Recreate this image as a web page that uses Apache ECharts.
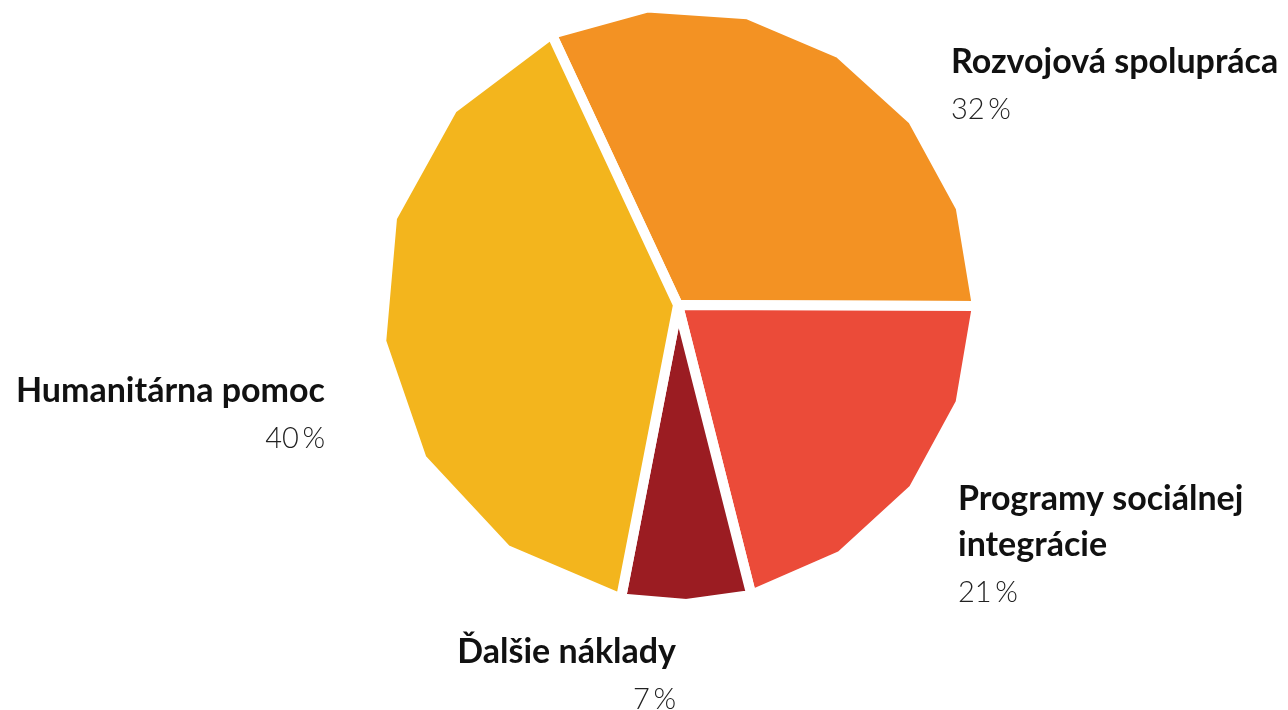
<!DOCTYPE html>
<html><head><meta charset="utf-8">
<script src="https://cdn.jsdelivr.net/npm/echarts@6/dist/echarts.min.js"></script>
<style>html,body{margin:0;padding:0;background:#fff}#c{width:1288px;height:710px}</style>
</head><body><div id="c"></div>
<script>
// ---- data ----
const categories = ['Rozvojová spolupráca', 'Programy sociálnej\nintegrácie', 'Ďalšie náklady', 'Humanitárna pomoc'];
const values = [32, 21, 7, 40];
const colors = ['#F39223', '#EB4B39', '#9B1C22', '#F3B51D'];

// ---- layout / style ----
const CX = 678, CY = 305, R = 299;
const START = 335; // degrees, clockwise from 12 o'clock
const GAP = 10;
const FONT = 'Lato, "Open Sans", sans-serif';
const NAME_SIZE = 34, VALUE_SIZE = 29, LINE_H = 46;
// anchor: x, baseline of first line, alignment
const labelAnchors = [
  {x: 951, y: 72, align: 'left'},
  {x: 958, y: 509, align: 'left'},
  {x: 676, y: 662, align: 'right'},
  {x: 325, y: 401, align: 'right'}
];

const total = values.reduce((a, b) => a + b, 0);

function renderItem(params, api) {
  const i = params.dataIndex;
  let before = 0;
  for (let k = 0; k < i; k++) before += values[k];
  const a0 = START + before / total * 360;
  const span = api.value(0) / total * 360;
  const n = Math.min(6, Math.max(2, Math.round(span / 19)));
  const pts = [[CX, CY]];
  for (let s = 0; s <= n; s++) {
    const a = (a0 + span * s / n) * Math.PI / 180;
    pts.push([CX + R * Math.sin(a), CY - R * Math.cos(a)]);
  }
  return {
    type: 'polygon',
    shape: {points: pts},
    style: {fill: colors[i], stroke: '#ffffff', lineWidth: GAP, lineJoin: 'round'}
  };
}

const graphics = [];
categories.forEach((name, i) => {
  const an = labelAnchors[i];
  const lines = name.split('\n');
  lines.forEach((ln, j) => {
    graphics.push({
      type: 'text', x: an.x, y: an.y + j * LINE_H - 0.3 * NAME_SIZE,
      style: {text: ln, font: 'bold ' + NAME_SIZE + 'px ' + FONT, fill: '#111111', align: an.align, verticalAlign: 'middle'}
    });
  });
  graphics.push({
    type: 'text', x: an.x, y: an.y + lines.length * LINE_H - 0.3 * VALUE_SIZE,
    style: {text: values[i] + '\u2009%', font: '300 ' + VALUE_SIZE + 'px ' + FONT, fill: '#222222', align: an.align, verticalAlign: 'middle'}
  });
});

const chart = echarts.init(document.getElementById('c'), null, {renderer: 'canvas'});
chart.setOption({
  backgroundColor: '#ffffff',
  animation: false,
  graphic: graphics,
  series: [{
    type: 'custom',
    coordinateSystem: 'none',
    renderItem: renderItem,
    data: values.map((v, i) => ({name: categories[i], value: v}))
  }]
});
</script>
</body></html>
